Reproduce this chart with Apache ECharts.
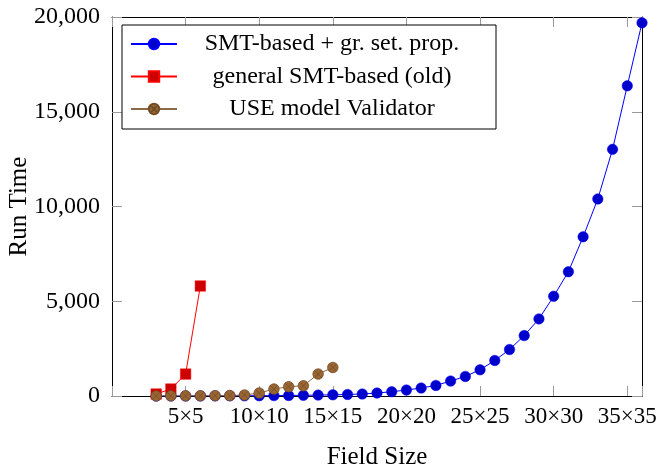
<!DOCTYPE html>
<html>
<head>
<meta charset="utf-8">
<script src="https://cdn.jsdelivr.net/npm/echarts@6/dist/echarts.min.js"></script>
<style>
  html, body { margin: 0; padding: 0; background: #fff; }
  #chart { width: 658px; height: 465px; }
</style>
</head>
<body>
<div id="chart"></div>
<script>
// field sizes (n for an n×n field) and run times
const sizesGr = [3, 4, 5, 6, 7, 8, 9, 10, 11, 12, 13, 14, 15, 16, 17, 18, 19, 20,
  21, 22, 23, 24, 25, 26, 27, 28, 29, 30, 31, 32, 33, 34, 35, 36]
const timesGr = [1, 2, 3, 4, 6, 8, 11, 15, 20, 27, 36, 48, 62, 80, 105, 158, 226, 316,
  421, 558, 789, 1032, 1384, 1874, 2453, 3189, 4068, 5263, 6558, 8400, 10400, 13016, 16368, 19690]

const sizesOld = [3, 4, 5, 6]
const timesOld = [105, 368, 1158, 5805]

const sizesUse = [3, 4, 5, 6, 7, 8, 9, 10, 11, 12, 13, 14, 15]
const timesUse = [5, 8, 10, 14, 18, 25, 53, 158, 368, 489, 542, 1158, 1505]

const seriesNames = ['SMT-based + gr. set. prop.', 'general SMT-based (old)', 'USE model Validator']
const xTicks = [5, 10, 15, 20, 25, 30, 35]
const yTicks = [0, 5000, 10000, 15000, 20000]

const FONT = 'Liberation Serif'
const zip = (xs, ys) => xs.map((x, i) => [x, ys[i]])

// circle with a cross inside (pgfplots otimes*)
const otimes = 'path://M0,12A12,12 0 1,1 24,12A12,12 0 1,1 0,12ZM3.5,3.5L20.5,20.5M20.5,3.5L3.5,20.5'

const chart = echarts.init(document.getElementById('chart'))

const frameAxis = {
  axisLine: { show: true, onZero: false, lineStyle: { color: '#000', width: 1 } },
  axisTick: { show: true, inside: true, length: 10, lineStyle: { color: '#999', width: 1 } },
  splitLine: { show: false }
}

const option = {
  animation: false,
  backgroundColor: '#fff',
  grid: { left: 112, right: 16, top: 17, bottom: 69, outerBoundsMode: 'none', containLabel: false },
  legend: {
    orient: 'vertical',
    left: 122,
    top: 25,
    data: seriesNames,
    itemWidth: 46,
    itemHeight: 13,
    itemGap: 8.5,
    padding: [7, 14, 8, 8],
    borderColor: '#000',
    borderWidth: 1,
    backgroundColor: '#fff',
    formatter: name => '{t|' + name + '}',
    textStyle: {
      rich: {
        t: { width: 300, align: 'center', fontFamily: FONT, fontSize: 24, lineHeight: 24, color: '#000' }
      }
    }
  },
  xAxis: [
    Object.assign({
      type: 'value',
      position: 'bottom',
      min: 0,
      max: 36,
      interval: 5,
      name: 'Field Size',
      nameLocation: 'middle',
      nameGap: 49,
      nameMoveOverlap: false,
      nameTextStyle: { fontFamily: FONT, fontSize: 25, color: '#000' },
      axisLabel: {
        margin: 9,
        fontFamily: FONT,
        fontSize: 23,
        color: '#000',
        formatter: v => (xTicks.indexOf(v) >= 0 ? v + '×' + v : '')
      }
    }, frameAxis),
    Object.assign({
      type: 'value',
      position: 'top',
      min: 0,
      max: 36,
      interval: 5,
      axisLabel: { show: false }
    }, frameAxis)
  ],
  yAxis: [
    Object.assign({
      type: 'value',
      position: 'left',
      min: 0,
      max: 20000,
      interval: 5000,
      name: 'Run Time',
      nameLocation: 'middle',
      nameGap: 80,
      nameMoveOverlap: false,
      nameTextStyle: { fontFamily: FONT, fontSize: 25, color: '#000' },
      axisLabel: {
        margin: 12,
        fontFamily: FONT,
        fontSize: 24,
        color: '#000',
        formatter: v => (yTicks.indexOf(v) >= 0 ? v.toLocaleString('en-US') : '')
      }
    }, frameAxis),
    Object.assign({
      type: 'value',
      position: 'right',
      min: 0,
      max: 20000,
      interval: 5000,
      axisLabel: { show: false }
    }, frameAxis)
  ],
  series: [
    {
      name: seriesNames[0],
      type: 'line',
      data: zip(sizesGr, timesGr),
      symbol: 'circle',
      symbolSize: 10.5,
      lineStyle: { color: '#0000ff', width: 1 },
      itemStyle: { color: '#0000cc', borderColor: '#0000ff', borderWidth: 0.5 }
    },
    {
      name: seriesNames[1],
      type: 'line',
      data: zip(sizesOld, timesOld),
      symbol: 'rect',
      symbolSize: 10.5,
      lineStyle: { color: '#ff0000', width: 1 },
      itemStyle: { color: '#cc0000', borderColor: '#ff0000', borderWidth: 0.5 }
    },
    {
      name: seriesNames[2],
      type: 'line',
      data: zip(sizesUse, timesUse),
      symbol: otimes,
      symbolSize: 10.5,
      lineStyle: { color: '#8c6a48', width: 1 },
      itemStyle: { color: '#996633', borderColor: '#734d26', borderWidth: 0.8 }
    }
  ]
}

chart.setOption(option)
</script>
</body>
</html>
